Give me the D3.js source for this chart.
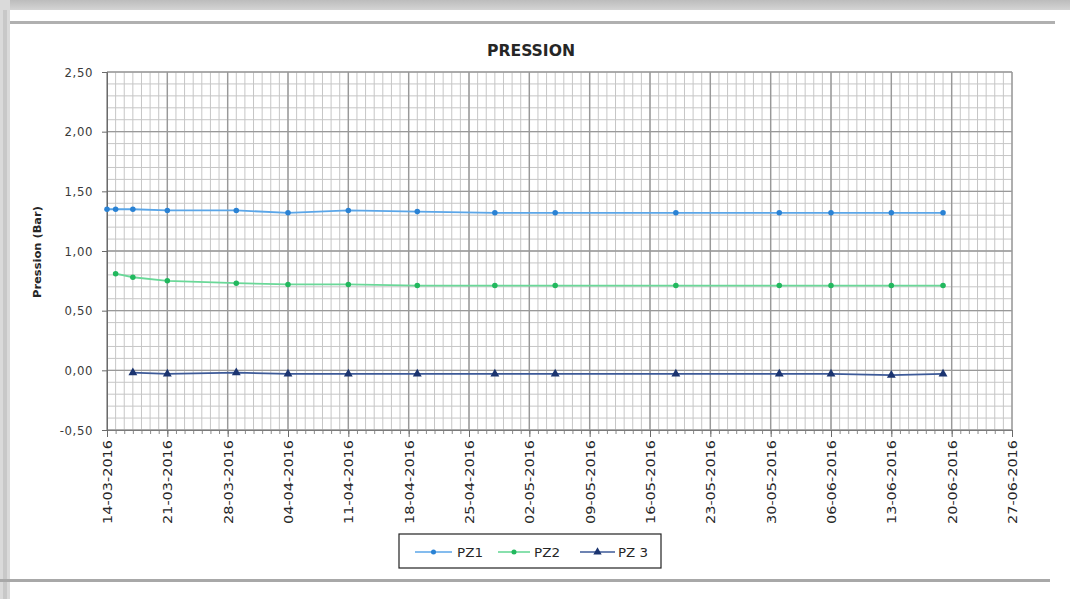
<!DOCTYPE html>
<html><head><meta charset="utf-8">
<script src="https://cdn.jsdelivr.net/npm/d3@7"></script>
<style>
html,body{margin:0;padding:0;background:#fff;}
svg{display:block;}
text{font-family:"Liberation Sans Narrow","DejaVu Sans Condensed","Liberation Sans",sans-serif;fill:#262626;}
</style></head>
<body><svg id="c" width="1070" height="599"></svg>
<script>
const chartTitle = "PRESSION";
const yTitle = "Pression (Bar)";
const seriesNames = ["PZ1", "PZ2", "PZ 3"];
const datesPZ1 = ["2016-03-14","2016-03-15","2016-03-17","2016-03-21","2016-03-29","2016-04-04","2016-04-11","2016-04-19","2016-04-28","2016-05-05","2016-05-19","2016-05-31","2016-06-06","2016-06-13","2016-06-19"];
const valuesPZ1 = [1.35,1.35,1.35,1.34,1.34,1.32,1.34,1.33,1.32,1.32,1.32,1.32,1.32,1.32,1.32];
const datesPZ2 = ["2016-03-15","2016-03-17","2016-03-21","2016-03-29","2016-04-04","2016-04-11","2016-04-19","2016-04-28","2016-05-05","2016-05-19","2016-05-31","2016-06-06","2016-06-13","2016-06-19"];
const valuesPZ2 = [0.81,0.78,0.75,0.73,0.72,0.72,0.71,0.71,0.71,0.71,0.71,0.71,0.71,0.71];
const datesPZ3 = ["2016-03-17","2016-03-21","2016-03-29","2016-04-04","2016-04-11","2016-04-19","2016-04-28","2016-05-05","2016-05-19","2016-05-31","2016-06-06","2016-06-13","2016-06-19"];
const valuesPZ3 = [-0.02,-0.03,-0.02,-0.03,-0.03,-0.03,-0.03,-0.03,-0.03,-0.03,-0.03,-0.04,-0.03];
const xTickDates = ["2016-03-14","2016-03-21","2016-03-28","2016-04-04","2016-04-11","2016-04-18","2016-04-25","2016-05-02","2016-05-09","2016-05-16","2016-05-23","2016-05-30","2016-06-06","2016-06-13","2016-06-20","2016-06-27"];
const yTicks = [-0.5, 0, 0.5, 1, 1.5, 2, 2.5];
const yTickLabels = ["-0,50","0,00","0,50","1,00","1,50","2,00","2,50"];

const parse = d3.utcParse("%Y-%m-%d");
const fmt = d3.utcFormat("%d-%m-%Y");
const svg = d3.select("#c");

// page frame
const grad = svg.append("defs").append("linearGradient").attr("id","tg").attr("x1",0).attr("y1",0).attr("x2",0).attr("y2",1);
grad.append("stop").attr("offset","0").attr("stop-color","#bcbcbc");
grad.append("stop").attr("offset","1").attr("stop-color","#d4d4d4");
svg.append("rect").attr("x",0).attr("y",0).attr("width",1070).attr("height",10).attr("fill","url(#tg)");
svg.append("rect").attr("x",0).attr("y",0).attr("width",10).attr("height",599).attr("fill","#dadada");
svg.append("rect").attr("x",3).attr("y",10).attr("width",4).attr("height",589).attr("fill","#c8c8c8");
svg.append("rect").attr("x",10).attr("y",21).attr("width",1045).attr("height",3).attr("fill","#b0b0b0");
svg.append("rect").attr("x",0).attr("y",579).attr("width",1050).attr("height",3).attr("fill","#a8a8a8");

const x0 = 107, x1 = 1012, y0 = 72, y1 = 430;
const x = d3.scaleUtc().domain([parse("2016-03-14"), parse("2016-06-27")]).range([x0, x1]);
const y = d3.scaleLinear().domain([-0.5, 2.5]).range([y1, y0]);

const g = svg.append("g");
// minor grid
const days = d3.utcDay.range(parse("2016-03-14"), d3.utcDay.offset(parse("2016-06-27"),1));
g.selectAll(".vmin").data(days).join("line")
  .attr("x1", d=>x(d)).attr("x2", d=>x(d)).attr("y1", y0).attr("y2", y1)
  .attr("stroke","#c6c6c6").attr("stroke-width",1);
const minorY = d3.range(-5, 26).map(i => i/10);
g.selectAll(".hmin").data(minorY).join("line")
  .attr("x1", x0).attr("x2", x1).attr("y1", d=>y(d)).attr("y2", d=>y(d))
  .attr("stroke","#c6c6c6").attr("stroke-width",1);
// major grid
g.selectAll(".vmaj").data(xTickDates.map(parse)).join("line")
  .attr("x1", d=>x(d)).attr("x2", d=>x(d)).attr("y1", y0).attr("y2", y1)
  .attr("stroke","#999").attr("stroke-width",1.4);
g.selectAll(".hmaj").data(yTicks).join("line")
  .attr("x1", x0).attr("x2", x1).attr("y1", d=>y(d)).attr("y2", d=>y(d))
  .attr("stroke","#999").attr("stroke-width",1.4);

// axes
const xAxisMinor = d3.axisBottom(x).tickValues(days).tickSize(4).tickFormat("");
const gxm = svg.append("g").attr("transform",`translate(0,${y1})`).call(xAxisMinor);
gxm.selectAll("line").attr("stroke","#8a8a8a");
gxm.select(".domain").attr("stroke","#7a7a7a");
const xAxis = d3.axisBottom(x).tickValues(xTickDates.map(parse)).tickSize(7).tickFormat(fmt);
const gx = svg.append("g").attr("transform",`translate(0,${y1})`).call(xAxis);
gx.select(".domain").attr("stroke","#7a7a7a");
gx.selectAll("line").attr("stroke","#6a6a6a");
gx.selectAll("text")
  .attr("transform","rotate(-90)")
  .attr("text-anchor","end")
  .attr("x",-10).attr("y",0).attr("dy","0.35em")
  .attr("font-size",13).attr("textLength",84).attr("lengthAdjust","spacingAndGlyphs")
  .style("fill","#262626");

const yAxis = d3.axisLeft(y).tickValues(yTicks).tickSize(5).tickFormat((d,i)=>yTickLabels[i]);
const gy = svg.append("g").attr("transform",`translate(${x0},0)`).call(yAxis);
gy.select(".domain").attr("stroke","#6a6a6a");
gy.selectAll("line").attr("stroke","#6a6a6a");
gy.selectAll("text").attr("x",-14).attr("font-size",13).attr("letter-spacing","0.6px").style("fill","#3a3a3a");

// titles
svg.append("text").attr("x",531).attr("y",56).attr("text-anchor","middle")
  .attr("font-size",16).attr("font-weight","bold").attr("textLength",88).attr("lengthAdjust","spacingAndGlyphs")
  .text(chartTitle);
svg.append("text").attr("transform","translate(41,252) rotate(-90)").attr("text-anchor","middle")
  .attr("font-size",11).attr("font-weight","bold").attr("textLength",92).attr("lengthAdjust","spacingAndGlyphs")
  .text(yTitle);

// series
const series = [
  {name: seriesNames[0], dates: datesPZ1, values: valuesPZ1, line:"#5ba6e8", mark:"#2a82d4", shape:d3.symbolCircle},
  {name: seriesNames[1], dates: datesPZ2, values: valuesPZ2, line:"#6ad898", mark:"#22b85e", shape:d3.symbolCircle},
  {name: seriesNames[2], dates: datesPZ3, values: valuesPZ3, line:"#3d5a98", mark:"#1b3470", shape:d3.symbolTriangle}
];
const line = d3.line().x(d=>x(d[0])).y(d=>y(d[1]));
series.forEach(s => {
  const pts = s.dates.map((d,i)=>[parse(d), s.values[i]]);
  svg.append("path").datum(pts).attr("d", line).attr("fill","none")
    .attr("stroke", s.line).attr("stroke-width",1.8);
  svg.selectAll(null).data(pts).join("path")
    .attr("transform", d=>`translate(${x(d[0])},${y(d[1])})`)
    .attr("d", d3.symbol().type(s.shape).size(s.shape===d3.symbolTriangle?34:24))
    .attr("fill", s.mark);
});

// legend
const lg = svg.append("g");
lg.append("rect").attr("x",399).attr("y",534).attr("width",262).attr("height",34)
  .attr("fill","#fff").attr("stroke","#222").attr("stroke-width",1.2);
const legPos = [{lx:415, lw:37, tx:457}, {lx:498, lw:32, tx:534}, {lx:580, lw:35, tx:618}];
series.forEach((s,i) => {
  const p = legPos[i];
  const ly = 552;
  lg.append("line").attr("x1",p.lx).attr("x2",p.lx+p.lw).attr("y1",ly).attr("y2",ly)
    .attr("stroke", s.line).attr("stroke-width",1.6);
  lg.append("path").attr("transform",`translate(${p.lx+p.lw/2},${ly})`)
    .attr("d", d3.symbol().type(s.shape).size(s.shape===d3.symbolTriangle?30:20)).attr("fill", s.mark);
  lg.append("text").attr("x",p.tx).attr("y",ly).attr("dy","0.36em").attr("font-size",13)
    .attr("textLength", i===2?30:26).attr("lengthAdjust","spacingAndGlyphs").text(s.name);
});
</script></body></html>
